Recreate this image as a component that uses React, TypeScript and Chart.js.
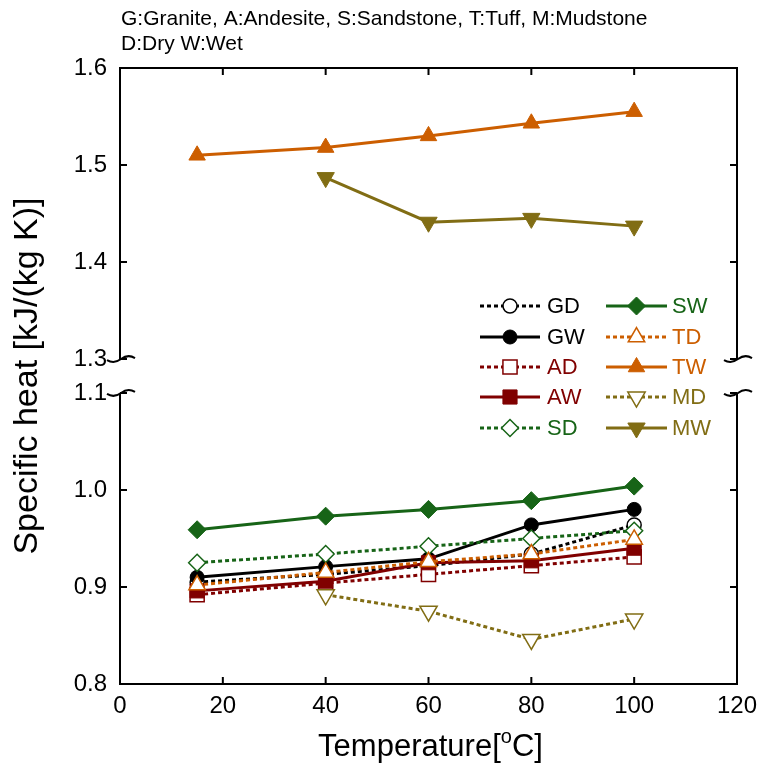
import React, { useEffect, useRef } from "react";
import { Chart, registerables } from "chart.js";

Chart.register(...registerables);

// ---------- data ----------
const temps = [15, 40, 60, 80, 100];
const mudDryTemps = [40, 60, 80, 100];
const GD = [0.905, 0.913, 0.922, 0.934, 0.964];
const GW = [0.910, 0.921, 0.929, 0.964, 0.980];
const AD = [0.892, 0.904, 0.913, 0.922, 0.931];
const AW = [0.896, 0.906, 0.925, 0.927, 0.940];
const SD = [0.925, 0.934, 0.942, 0.950, 0.958];
const SW = [0.959, 0.973, 0.980, 0.989, 1.004];
const TD = [0.902, 0.915, 0.926, 0.934, 0.949];
const TW = [1.510, 1.518, 1.530, 1.543, 1.555];
const MD = [0.892, 0.875, 0.846, 0.867];
const MW = [1.487, 1.441, 1.445, 1.437];
const xTickValues = [0, 20, 40, 60, 80, 100, 120];
const yTickValues = [0.8, 0.9, 1.0, 1.1, 1.3, 1.4, 1.5, 1.6];
const headerLines = ["G:Granite, A:Andesite, S:Sandstone, T:Tuff, M:Mudstone", "D:Dry W:Wet"];

// ---------- broken axis ----------
const BREAK_LOW = 1.1;
const BREAK_HIGH = 1.3;
const GAP = 0.035;
const toAxis = (v: number) => (v >= BREAK_HIGH - 1e-9 ? v - (BREAK_HIGH - BREAK_LOW) + GAP : v);
const fromAxis = (a: number) => (a > BREAK_LOW + 1e-6 ? a + (BREAK_HIGH - BREAK_LOW) - GAP : a);

// ---------- styles ----------
const C_G = "#000000";
const C_A = "#800000";
const C_S = "#176417";
const C_T = "#cc5e00";
const C_M = "#816d14";
const FONT = '"Liberation Sans", Arial, sans-serif';
const W = 757;
const H = 769;

type S = {
  label: string; xs: number[]; ys: number[]; color: string; dashed: boolean;
  filled: boolean; style: string; r: number; rot: number;
};
const series: S[] = [
  { label: "GD", xs: temps, ys: GD, color: C_G, dashed: true, filled: false, style: "circle", r: 7, rot: 0 },
  { label: "GW", xs: temps, ys: GW, color: C_G, dashed: false, filled: true, style: "circle", r: 7, rot: 0 },
  { label: "AD", xs: temps, ys: AD, color: C_A, dashed: true, filled: false, style: "rect", r: 10, rot: 0 },
  { label: "AW", xs: temps, ys: AW, color: C_A, dashed: false, filled: true, style: "rect", r: 10, rot: 0 },
  { label: "SD", xs: temps, ys: SD, color: C_S, dashed: true, filled: false, style: "rectRot", r: 8.5, rot: 0 },
  { label: "SW", xs: temps, ys: SW, color: C_S, dashed: false, filled: true, style: "rectRot", r: 9, rot: 0 },
  { label: "TD", xs: temps, ys: TD, color: C_T, dashed: true, filled: false, style: "triangle", r: 9.5, rot: 0 },
  { label: "TW", xs: temps, ys: TW, color: C_T, dashed: false, filled: true, style: "triangle", r: 9.5, rot: 0 },
  { label: "MD", xs: mudDryTemps, ys: MD, color: C_M, dashed: true, filled: false, style: "triangle", r: 10, rot: 180 },
  { label: "MW", xs: mudDryTemps, ys: MW, color: C_M, dashed: false, filled: true, style: "triangle", r: 10, rot: 180 },
];

function drawMarker(ctx: CanvasRenderingContext2D, s: S, x: number, y: number) {
  const r = s.r;
  ctx.beginPath();
  if (s.style === "circle") {
    ctx.arc(x, y, r, 0, Math.PI * 2);
  } else if (s.style === "rect") {
    const h = Math.SQRT1_2 * r;
    ctx.rect(x - h, y - h, 2 * h, 2 * h);
  } else if (s.style === "rectRot") {
    ctx.moveTo(x - r, y);
    ctx.lineTo(x, y - r);
    ctx.lineTo(x + r, y);
    ctx.lineTo(x, y + r);
    ctx.closePath();
  } else {
    let a = (s.rot * Math.PI) / 180;
    ctx.moveTo(x + Math.sin(a) * r, y - Math.cos(a) * r);
    a += (2 * Math.PI) / 3;
    ctx.lineTo(x + Math.sin(a) * r, y - Math.cos(a) * r);
    a += (2 * Math.PI) / 3;
    ctx.lineTo(x + Math.sin(a) * r, y - Math.cos(a) * r);
    ctx.closePath();
  }
  ctx.fillStyle = s.filled ? s.color : "#ffffff";
  ctx.fill();
  ctx.lineWidth = s.filled ? 1 : 1.5;
  ctx.strokeStyle = s.color;
  ctx.setLineDash([]);
  ctx.stroke();
}

const decorPlugin = {
  id: "decor",
  afterDraw(chart: any) {
    const ctx: CanvasRenderingContext2D = chart.ctx;
    const { left, right, top, bottom } = chart.chartArea;
    const ys = chart.scales.y;
    const xs = chart.scales.x;
    const yLow = ys.getPixelForValue(BREAK_LOW);
    const yHigh = ys.getPixelForValue(toAxis(BREAK_HIGH));
    ctx.save();
    ctx.strokeStyle = "#000";
    ctx.lineWidth = 2;
    ctx.setLineDash([]);
    ctx.lineCap = "butt";
    // frame
    ctx.beginPath();
    ctx.moveTo(left, bottom);
    ctx.lineTo(right, bottom);
    ctx.moveTo(left, top);
    ctx.lineTo(right, top);
    for (const ax of [left, right]) {
      ctx.moveTo(ax, top - 1);
      ctx.lineTo(ax, yHigh);
      ctx.moveTo(ax, yLow);
      ctx.lineTo(ax, bottom + 1);
    }
    ctx.stroke();
    // ticks
    ctx.beginPath();
    const tl = 7;
    for (const v of xTickValues) {
      const px = xs.getPixelForValue(v);
      if (px <= left + 1 || px >= right - 1) continue;
      ctx.moveTo(px, bottom);
      ctx.lineTo(px, bottom - tl);
      ctx.moveTo(px, top);
      ctx.lineTo(px, top + tl);
    }
    for (const v of yTickValues) {
      const py = ys.getPixelForValue(toAxis(v));
      if (py <= top + 1 || py >= bottom - 1) continue;
      ctx.moveTo(left, py);
      ctx.lineTo(left + tl, py);
      ctx.moveTo(right, py);
      ctx.lineTo(right - tl, py);
    }
    ctx.stroke();
    // break marks
    const wave = (x: number, y: number) => {
      ctx.beginPath();
      ctx.moveTo(x - 13, y + 1);
      ctx.bezierCurveTo(x - 8, y + 4, x - 3, y + 3, x + 1, y);
      ctx.bezierCurveTo(x + 5, y - 3, x + 10, y - 4, x + 15, y - 1);
      ctx.stroke();
    };
    ctx.lineWidth = 2;
    for (const ax of [left, right]) {
      wave(ax, yHigh);
      wave(ax, yLow);
    }

    // x tick labels
    ctx.fillStyle = "#000";
    ctx.font = `24px ${FONT}`;
    ctx.textAlign = "center";
    ctx.textBaseline = "middle";
    for (const v of xTickValues) {
      ctx.fillText(String(v), xs.getPixelForValue(v), bottom + 22);
    }

    // legend
    const rowY = [306, 337, 367, 397, 428];
    const cols = [
      { x1: 480, x2: 540, tx: 547 },
      { x1: 606, x2: 667, tx: 672 },
    ];
    ctx.font = `22px ${FONT}`;
    ctx.textBaseline = "middle";
    ctx.textAlign = "left";
    series.forEach((s, i) => {
      const col = cols[Math.floor(i / 5)];
      const y = rowY[i % 5];
      ctx.beginPath();
      ctx.strokeStyle = s.color;
      ctx.lineWidth = 3;
      ctx.setLineDash(s.dashed ? [4, 3] : []);
      ctx.moveTo(col.x1, y);
      ctx.lineTo(col.x2, y);
      ctx.stroke();
      drawMarker(ctx, s, (col.x1 + col.x2) / 2, y);
      ctx.fillStyle = s.color;
      ctx.fillText(s.label, col.tx, y + 1);
    });

    // header
    ctx.fillStyle = "#000";
    ctx.font = `21px ${FONT}`;
    ctx.textBaseline = "middle";
    ctx.textAlign = "left";
    ctx.fillText(headerLines[0], 121, 19);
    ctx.fillText(headerLines[1], 121, 44);

    // y title
    ctx.save();
    ctx.translate(28, (top + bottom) / 2);
    ctx.rotate(-Math.PI / 2);
    ctx.font = `34px ${FONT}`;
    ctx.textAlign = "center";
    ctx.textBaseline = "middle";
    ctx.fillText("Specific heat [kJ/(kg K)]", 0, 0);
    ctx.restore();

    // x title with superscript o
    const big = `31px ${FONT}`;
    const small = `20px ${FONT}`;
    const p1 = "Temperature[";
    const p2 = "o";
    const p3 = "C]";
    ctx.font = big;
    const w1 = ctx.measureText(p1).width;
    const w3 = ctx.measureText(p3).width;
    ctx.font = small;
    const w2 = ctx.measureText(p2).width;
    const total = w1 + w2 + w3;
    let cx = (left + right) / 2 - total / 2 + 2;
    const by = 756;
    ctx.textBaseline = "alphabetic";
    ctx.textAlign = "left";
    ctx.font = big;
    ctx.fillText(p1, cx, by);
    cx += w1;
    ctx.font = small;
    ctx.fillText(p2, cx, by - 13);
    cx += w2;
    ctx.font = big;
    ctx.fillText(p3, cx, by);
    ctx.restore();
  },
};

export default function App() {
  const ref = useRef<HTMLCanvasElement | null>(null);
  useEffect(() => {
    if (!ref.current) return;
    const datasets = series.map((s, i) => ({
      label: s.label,
      data: s.xs.map((x, k) => ({ x, y: toAxis(s.ys[k]) })),
      showLine: true,
      borderColor: s.color,
      borderWidth: 3,
      borderDash: s.dashed ? [4, 3] : [],
      pointStyle: s.style,
      pointRadius: s.r,
      pointHoverRadius: s.r,
      pointRotation: s.rot,
      pointBackgroundColor: s.filled ? s.color : "#ffffff",
      pointBorderColor: s.color,
      pointBorderWidth: s.filled ? 1 : 1.5,
      fill: false,
      tension: 0,
      order: series.length - i,
    }));
    const chart = new Chart(ref.current, {
      type: "scatter",
      data: { datasets },
      options: {
        animation: false,
        responsive: false,
        layout: { padding: { top: 68, right: 20, left: 0, bottom: 0 } },
        plugins: { legend: { display: false }, tooltip: { enabled: false }, title: { display: false } },
        scales: {
          x: {
            type: "linear",
            min: 0,
            max: 120,
            grid: { display: false, drawTicks: false },
            border: { display: false },
            afterFit: (sc: any) => { sc.height = 85; },
            afterBuildTicks: (sc: any) => { sc.ticks = xTickValues.map((v) => ({ value: v })); },
            ticks: { display: false },
          },
          y: {
            type: "linear",
            min: 0.8,
            max: toAxis(1.6),
            grid: { display: false, drawTicks: false },
            border: { display: false },
            afterFit: (sc: any) => { sc.width = 120; },
            afterBuildTicks: (sc: any) => { sc.ticks = yTickValues.map((v) => ({ value: toAxis(v) })); },
            ticks: {
              padding: 13,
              color: "#000",
              font: { family: FONT, size: 24 },
              callback: (v: any) => fromAxis(Number(v)).toFixed(1),
            },
          },
        },
      },
      plugins: [decorPlugin],
    } as any);
    return () => chart.destroy();
  }, []);
  return (
    <canvas
      ref={ref}
      width={W}
      height={H}
      style={{ display: "block", position: "absolute", left: 0, top: 0 }}
    />
  );
}
